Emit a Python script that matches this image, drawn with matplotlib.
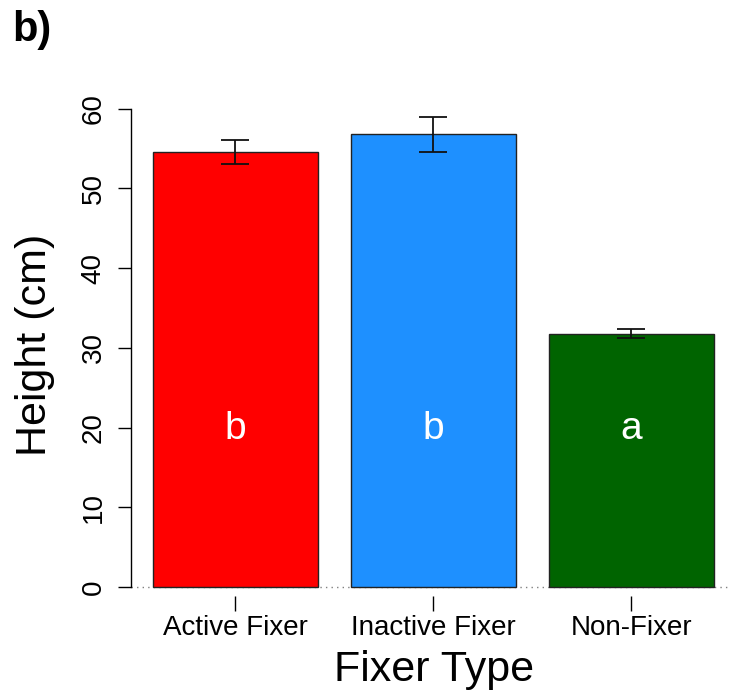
import matplotlib.pyplot as plt
import numpy as np

plt.rcParams['font.family'] = ['Liberation Sans', 'DejaVu Sans']

# data
fixer_types = ['Active Fixer', 'Inactive Fixer', 'Non-Fixer']
heights = [54.6, 56.8, 31.8]
errors = [1.5, 2.2, 0.6]
letters = ['b', 'b', 'a']
colors = ['#FF0000', '#1E90FF', '#006400']

W, H = 730, 698
fig = plt.figure(figsize=(W / 100, H / 100), dpi=100)

# axes placement in pixels (R barplot style: width 1, space 0.2)
px_unit_y = 7.97
y0_px = 587
ax_left, ax_right = 131, 730
ax_bottom_px = 596
ytop = 63
ax_top_px = y0_px - ytop * px_unit_y
ybot = -(ax_bottom_px - y0_px) / px_unit_y
ax = fig.add_axes([ax_left / W, (H - ax_bottom_px) / H,
                   (ax_right - ax_left) / W, (ax_bottom_px - ax_top_px) / H])

x = 0.7 + 1.2 * np.arange(len(heights))
ax.bar(x, heights, width=1.0, color=colors, edgecolor='#222222', linewidth=1.0, zorder=2)
ax.errorbar(x, heights, yerr=errors, fmt='none', ecolor='#111111',
            elinewidth=1.3, capsize=10, capthick=1.3, zorder=3)
ax.axhline(0, color='grey', ls=(0, (1, 3)), lw=1.0, zorder=1)

for xi, lt in zip(x, letters):
    ax.text(xi, 19.8, lt, color='white', fontsize=28, ha='center', va='center', zorder=4)

ax.set_xlim(0.067, 0.067 + (ax_right - ax_left) / 165)
ax.set_ylim(ybot, ytop)

for s in ['top', 'right', 'bottom']:
    ax.spines[s].set_visible(False)
ax.spines['left'].set_bounds(0, 60)
ax.spines['left'].set_linewidth(1.0)

ax.set_yticks([0, 10, 20, 30, 40, 50, 60])
ax.tick_params(axis='y', length=9.4, width=1.0, labelsize=20, pad=8)
for lab in ax.get_yticklabels():
    lab.set_rotation(90)
    lab.set_va('center')

ax.set_xticks(x)
ax.set_xticklabels(fixer_types)
ax.tick_params(axis='x', length=11, width=1.0, labelsize=20, pad=3)

fig.text(35 / W, 1 - 345 / H, 'Height (cm)', rotation=90, fontsize=31,
         ha='center', va='center')
fig.text(434 / W, 1 - 670 / H, 'Fixer Type', fontsize=31, ha='center', va='center')
fig.text(12 / W, 1 - 30 / H, 'b)', fontsize=30, fontweight='bold', ha='left', va='center')

fig.savefig('out.png', dpi=100)
